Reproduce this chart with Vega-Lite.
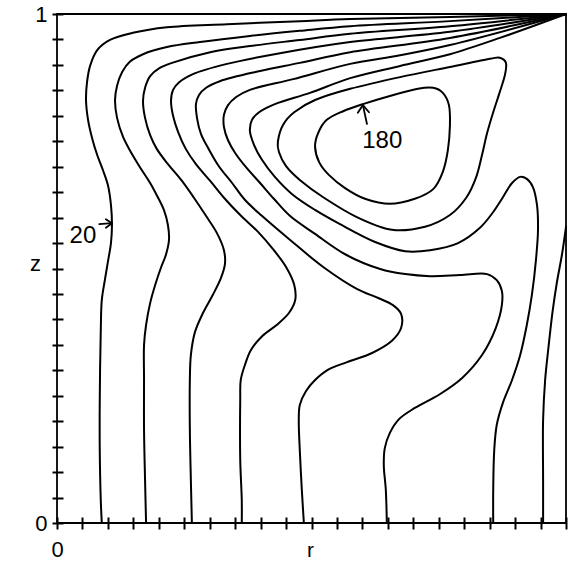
{
  "$schema": "https://vega.github.io/schema/vega-lite/v6.json",
  "width": 509,
  "height": 509,
  "autosize": {"type": "none"},
  "padding": {"left": 57, "top": 14, "right": 2, "bottom": 39},
  "background": "white",
  "config": {
    "view": {"stroke": "black", "strokeWidth": 1.8},
    "font": "Liberation Sans"
  },
  "datasets": {
    "streamlines": [
      {"id": "c1", "k": 1, "r": 0.088, "z": 0},
      {"id": "c1", "k": 2, "r": 0.086, "z": 0.045},
      {"id": "c1", "k": 3, "r": 0.084, "z": 0.143},
      {"id": "c1", "k": 4, "r": 0.084, "z": 0.242},
      {"id": "c1", "k": 5, "r": 0.086, "z": 0.379},
      {"id": "c1", "k": 6, "r": 0.088, "z": 0.438},
      {"id": "c1", "k": 7, "r": 0.094, "z": 0.477},
      {"id": "c1", "k": 8, "r": 0.100, "z": 0.513},
      {"id": "c1", "k": 9, "r": 0.106, "z": 0.550},
      {"id": "c1", "k": 10, "r": 0.108, "z": 0.585},
      {"id": "c1", "k": 11, "r": 0.106, "z": 0.625},
      {"id": "c1", "k": 12, "r": 0.100, "z": 0.664},
      {"id": "c1", "k": 13, "r": 0.090, "z": 0.694},
      {"id": "c1", "k": 14, "r": 0.079, "z": 0.723},
      {"id": "c1", "k": 15, "r": 0.069, "z": 0.756},
      {"id": "c1", "k": 16, "r": 0.061, "z": 0.792},
      {"id": "c1", "k": 17, "r": 0.057, "z": 0.831},
      {"id": "c1", "k": 18, "r": 0.059, "z": 0.866},
      {"id": "c1", "k": 19, "r": 0.065, "z": 0.898},
      {"id": "c1", "k": 20, "r": 0.079, "z": 0.929},
      {"id": "c1", "k": 21, "r": 0.104, "z": 0.949},
      {"id": "c1", "k": 22, "r": 0.149, "z": 0.963},
      {"id": "c1", "k": 23, "r": 0.216, "z": 0.974},
      {"id": "c1", "k": 24, "r": 0.334, "z": 0.980},
      {"id": "c1", "k": 25, "r": 0.477, "z": 0.986},
      {"id": "c1", "k": 26, "r": 0.576, "z": 0.990},
      {"id": "c1", "k": 27, "r": 0.772, "z": 0.994},
      {"id": "c1", "k": 28, "r": 1.0, "z": 1.0},

      {"id": "c2", "k": 1, "r": 0.175, "z": 0},
      {"id": "c2", "k": 2, "r": 0.173, "z": 0.084},
      {"id": "c2", "k": 3, "r": 0.171, "z": 0.183},
      {"id": "c2", "k": 4, "r": 0.171, "z": 0.281},
      {"id": "c2", "k": 5, "r": 0.171, "z": 0.350},
      {"id": "c2", "k": 6, "r": 0.175, "z": 0.389},
      {"id": "c2", "k": 7, "r": 0.183, "z": 0.432},
      {"id": "c2", "k": 8, "r": 0.193, "z": 0.468},
      {"id": "c2", "k": 9, "r": 0.204, "z": 0.501},
      {"id": "c2", "k": 10, "r": 0.214, "z": 0.527},
      {"id": "c2", "k": 11, "r": 0.220, "z": 0.556},
      {"id": "c2", "k": 12, "r": 0.218, "z": 0.585},
      {"id": "c2", "k": 13, "r": 0.210, "z": 0.615},
      {"id": "c2", "k": 14, "r": 0.196, "z": 0.644},
      {"id": "c2", "k": 15, "r": 0.183, "z": 0.668},
      {"id": "c2", "k": 16, "r": 0.163, "z": 0.699},
      {"id": "c2", "k": 17, "r": 0.145, "z": 0.729},
      {"id": "c2", "k": 18, "r": 0.130, "z": 0.758},
      {"id": "c2", "k": 19, "r": 0.118, "z": 0.796},
      {"id": "c2", "k": 20, "r": 0.114, "z": 0.831},
      {"id": "c2", "k": 21, "r": 0.118, "z": 0.859},
      {"id": "c2", "k": 22, "r": 0.128, "z": 0.886},
      {"id": "c2", "k": 23, "r": 0.143, "z": 0.906},
      {"id": "c2", "k": 24, "r": 0.169, "z": 0.921},
      {"id": "c2", "k": 25, "r": 0.216, "z": 0.935},
      {"id": "c2", "k": 26, "r": 0.281, "z": 0.945},
      {"id": "c2", "k": 27, "r": 0.379, "z": 0.957},
      {"id": "c2", "k": 28, "r": 0.477, "z": 0.967},
      {"id": "c2", "k": 29, "r": 0.576, "z": 0.976},
      {"id": "c2", "k": 30, "r": 0.772, "z": 0.986},
      {"id": "c2", "k": 31, "r": 1.0, "z": 1.0},

      {"id": "c3", "k": 1, "r": 0.265, "z": 0},
      {"id": "c3", "k": 2, "r": 0.263, "z": 0.084},
      {"id": "c3", "k": 3, "r": 0.261, "z": 0.183},
      {"id": "c3", "k": 4, "r": 0.261, "z": 0.281},
      {"id": "c3", "k": 5, "r": 0.263, "z": 0.330},
      {"id": "c3", "k": 6, "r": 0.271, "z": 0.375},
      {"id": "c3", "k": 7, "r": 0.287, "z": 0.413},
      {"id": "c3", "k": 8, "r": 0.306, "z": 0.448},
      {"id": "c3", "k": 9, "r": 0.322, "z": 0.481},
      {"id": "c3", "k": 10, "r": 0.330, "z": 0.509},
      {"id": "c3", "k": 11, "r": 0.328, "z": 0.536},
      {"id": "c3", "k": 12, "r": 0.314, "z": 0.570},
      {"id": "c3", "k": 13, "r": 0.293, "z": 0.603},
      {"id": "c3", "k": 14, "r": 0.269, "z": 0.639},
      {"id": "c3", "k": 15, "r": 0.244, "z": 0.674},
      {"id": "c3", "k": 16, "r": 0.218, "z": 0.705},
      {"id": "c3", "k": 17, "r": 0.196, "z": 0.735},
      {"id": "c3", "k": 18, "r": 0.183, "z": 0.762},
      {"id": "c3", "k": 19, "r": 0.173, "z": 0.796},
      {"id": "c3", "k": 20, "r": 0.169, "z": 0.829},
      {"id": "c3", "k": 21, "r": 0.173, "z": 0.855},
      {"id": "c3", "k": 22, "r": 0.183, "z": 0.878},
      {"id": "c3", "k": 23, "r": 0.202, "z": 0.894},
      {"id": "c3", "k": 24, "r": 0.226, "z": 0.904},
      {"id": "c3", "k": 25, "r": 0.301, "z": 0.925},
      {"id": "c3", "k": 26, "r": 0.379, "z": 0.937},
      {"id": "c3", "k": 27, "r": 0.477, "z": 0.949},
      {"id": "c3", "k": 28, "r": 0.576, "z": 0.961},
      {"id": "c3", "k": 29, "r": 0.772, "z": 0.976},
      {"id": "c3", "k": 30, "r": 1.0, "z": 1.0},

      {"id": "c4", "k": 1, "r": 0.363, "z": 0},
      {"id": "c4", "k": 2, "r": 0.363, "z": 0.045},
      {"id": "c4", "k": 3, "r": 0.360, "z": 0.124},
      {"id": "c4", "k": 4, "r": 0.360, "z": 0.242},
      {"id": "c4", "k": 5, "r": 0.361, "z": 0.281},
      {"id": "c4", "k": 6, "r": 0.369, "z": 0.310},
      {"id": "c4", "k": 7, "r": 0.381, "z": 0.340},
      {"id": "c4", "k": 8, "r": 0.403, "z": 0.367},
      {"id": "c4", "k": 9, "r": 0.434, "z": 0.391},
      {"id": "c4", "k": 10, "r": 0.456, "z": 0.413},
      {"id": "c4", "k": 11, "r": 0.468, "z": 0.438},
      {"id": "c4", "k": 12, "r": 0.466, "z": 0.468},
      {"id": "c4", "k": 13, "r": 0.450, "z": 0.503},
      {"id": "c4", "k": 14, "r": 0.426, "z": 0.536},
      {"id": "c4", "k": 15, "r": 0.395, "z": 0.572},
      {"id": "c4", "k": 16, "r": 0.360, "z": 0.605},
      {"id": "c4", "k": 17, "r": 0.328, "z": 0.639},
      {"id": "c4", "k": 18, "r": 0.301, "z": 0.672},
      {"id": "c4", "k": 19, "r": 0.273, "z": 0.705},
      {"id": "c4", "k": 20, "r": 0.253, "z": 0.735},
      {"id": "c4", "k": 21, "r": 0.238, "z": 0.768},
      {"id": "c4", "k": 22, "r": 0.228, "z": 0.800},
      {"id": "c4", "k": 23, "r": 0.224, "z": 0.829},
      {"id": "c4", "k": 24, "r": 0.228, "z": 0.851},
      {"id": "c4", "k": 25, "r": 0.240, "z": 0.866},
      {"id": "c4", "k": 26, "r": 0.267, "z": 0.882},
      {"id": "c4", "k": 27, "r": 0.334, "z": 0.902},
      {"id": "c4", "k": 28, "r": 0.438, "z": 0.923},
      {"id": "c4", "k": 29, "r": 0.576, "z": 0.945},
      {"id": "c4", "k": 30, "r": 0.772, "z": 0.965},
      {"id": "c4", "k": 31, "r": 1.0, "z": 1.0},

      {"id": "c5", "k": 1, "r": 0.485, "z": 0},
      {"id": "c5", "k": 2, "r": 0.481, "z": 0.065},
      {"id": "c5", "k": 3, "r": 0.477, "z": 0.143},
      {"id": "c5", "k": 4, "r": 0.475, "z": 0.202},
      {"id": "c5", "k": 5, "r": 0.477, "z": 0.232},
      {"id": "c5", "k": 6, "r": 0.489, "z": 0.259},
      {"id": "c5", "k": 7, "r": 0.507, "z": 0.281},
      {"id": "c5", "k": 8, "r": 0.532, "z": 0.301},
      {"id": "c5", "k": 9, "r": 0.570, "z": 0.316},
      {"id": "c5", "k": 10, "r": 0.619, "z": 0.334},
      {"id": "c5", "k": 11, "r": 0.658, "z": 0.358},
      {"id": "c5", "k": 12, "r": 0.676, "z": 0.383},
      {"id": "c5", "k": 13, "r": 0.676, "z": 0.411},
      {"id": "c5", "k": 14, "r": 0.660, "z": 0.428},
      {"id": "c5", "k": 15, "r": 0.631, "z": 0.442},
      {"id": "c5", "k": 16, "r": 0.589, "z": 0.460},
      {"id": "c5", "k": 17, "r": 0.523, "z": 0.503},
      {"id": "c5", "k": 18, "r": 0.458, "z": 0.556},
      {"id": "c5", "k": 19, "r": 0.403, "z": 0.603},
      {"id": "c5", "k": 20, "r": 0.369, "z": 0.635},
      {"id": "c5", "k": 21, "r": 0.344, "z": 0.668},
      {"id": "c5", "k": 22, "r": 0.318, "z": 0.701},
      {"id": "c5", "k": 23, "r": 0.299, "z": 0.733},
      {"id": "c5", "k": 24, "r": 0.283, "z": 0.764},
      {"id": "c5", "k": 25, "r": 0.275, "z": 0.796},
      {"id": "c5", "k": 26, "r": 0.273, "z": 0.823},
      {"id": "c5", "k": 27, "r": 0.279, "z": 0.841},
      {"id": "c5", "k": 28, "r": 0.293, "z": 0.855},
      {"id": "c5", "k": 29, "r": 0.320, "z": 0.868},
      {"id": "c5", "k": 30, "r": 0.399, "z": 0.888},
      {"id": "c5", "k": 31, "r": 0.477, "z": 0.904},
      {"id": "c5", "k": 32, "r": 0.576, "z": 0.925},
      {"id": "c5", "k": 33, "r": 0.772, "z": 0.953},
      {"id": "c5", "k": 34, "r": 1.0, "z": 1.0},

      {"id": "c6", "k": 1, "r": 0.648, "z": 0},
      {"id": "c6", "k": 2, "r": 0.646, "z": 0.065},
      {"id": "c6", "k": 3, "r": 0.642, "z": 0.114},
      {"id": "c6", "k": 4, "r": 0.644, "z": 0.147},
      {"id": "c6", "k": 5, "r": 0.654, "z": 0.177},
      {"id": "c6", "k": 6, "r": 0.672, "z": 0.204},
      {"id": "c6", "k": 7, "r": 0.703, "z": 0.226},
      {"id": "c6", "k": 8, "r": 0.752, "z": 0.253},
      {"id": "c6", "k": 9, "r": 0.796, "z": 0.285},
      {"id": "c6", "k": 10, "r": 0.835, "z": 0.330},
      {"id": "c6", "k": 11, "r": 0.862, "z": 0.383},
      {"id": "c6", "k": 12, "r": 0.874, "z": 0.428},
      {"id": "c6", "k": 13, "r": 0.874, "z": 0.456},
      {"id": "c6", "k": 14, "r": 0.864, "z": 0.477},
      {"id": "c6", "k": 15, "r": 0.845, "z": 0.489},
      {"id": "c6", "k": 16, "r": 0.792, "z": 0.487},
      {"id": "c6", "k": 17, "r": 0.733, "z": 0.485},
      {"id": "c6", "k": 18, "r": 0.684, "z": 0.489},
      {"id": "c6", "k": 19, "r": 0.635, "z": 0.499},
      {"id": "c6", "k": 20, "r": 0.566, "z": 0.528},
      {"id": "c6", "k": 21, "r": 0.507, "z": 0.568},
      {"id": "c6", "k": 22, "r": 0.458, "z": 0.603},
      {"id": "c6", "k": 23, "r": 0.426, "z": 0.637},
      {"id": "c6", "k": 24, "r": 0.399, "z": 0.668},
      {"id": "c6", "k": 25, "r": 0.373, "z": 0.697},
      {"id": "c6", "k": 26, "r": 0.350, "z": 0.727},
      {"id": "c6", "k": 27, "r": 0.336, "z": 0.752},
      {"id": "c6", "k": 28, "r": 0.328, "z": 0.778},
      {"id": "c6", "k": 29, "r": 0.328, "z": 0.802},
      {"id": "c6", "k": 30, "r": 0.336, "z": 0.821},
      {"id": "c6", "k": 31, "r": 0.352, "z": 0.837},
      {"id": "c6", "k": 32, "r": 0.379, "z": 0.851},
      {"id": "c6", "k": 33, "r": 0.464, "z": 0.872},
      {"id": "c6", "k": 34, "r": 0.576, "z": 0.902},
      {"id": "c6", "k": 35, "r": 0.674, "z": 0.919},
      {"id": "c6", "k": 36, "r": 0.772, "z": 0.939},
      {"id": "c6", "k": 37, "r": 1.0, "z": 1.0},

      {"id": "c7", "k": 1, "r": 0.857, "z": 0},
      {"id": "c7", "k": 2, "r": 0.857, "z": 0.065},
      {"id": "c7", "k": 3, "r": 0.859, "z": 0.143},
      {"id": "c7", "k": 4, "r": 0.864, "z": 0.193},
      {"id": "c7", "k": 5, "r": 0.876, "z": 0.236},
      {"id": "c7", "k": 6, "r": 0.894, "z": 0.281},
      {"id": "c7", "k": 7, "r": 0.910, "z": 0.330},
      {"id": "c7", "k": 8, "r": 0.923, "z": 0.389},
      {"id": "c7", "k": 9, "r": 0.933, "z": 0.448},
      {"id": "c7", "k": 10, "r": 0.941, "z": 0.517},
      {"id": "c7", "k": 11, "r": 0.945, "z": 0.576},
      {"id": "c7", "k": 12, "r": 0.943, "z": 0.625},
      {"id": "c7", "k": 13, "r": 0.935, "z": 0.660},
      {"id": "c7", "k": 14, "r": 0.923, "z": 0.676},
      {"id": "c7", "k": 15, "r": 0.910, "z": 0.680},
      {"id": "c7", "k": 16, "r": 0.894, "z": 0.668},
      {"id": "c7", "k": 17, "r": 0.876, "z": 0.640},
      {"id": "c7", "k": 18, "r": 0.857, "z": 0.611},
      {"id": "c7", "k": 19, "r": 0.831, "z": 0.580},
      {"id": "c7", "k": 20, "r": 0.788, "z": 0.550},
      {"id": "c7", "k": 21, "r": 0.733, "z": 0.536},
      {"id": "c7", "k": 22, "r": 0.684, "z": 0.534},
      {"id": "c7", "k": 23, "r": 0.625, "z": 0.552},
      {"id": "c7", "k": 24, "r": 0.556, "z": 0.587},
      {"id": "c7", "k": 25, "r": 0.507, "z": 0.615},
      {"id": "c7", "k": 26, "r": 0.462, "z": 0.646},
      {"id": "c7", "k": 27, "r": 0.428, "z": 0.680},
      {"id": "c7", "k": 28, "r": 0.403, "z": 0.713},
      {"id": "c7", "k": 29, "r": 0.387, "z": 0.743},
      {"id": "c7", "k": 30, "r": 0.379, "z": 0.770},
      {"id": "c7", "k": 31, "r": 0.383, "z": 0.792},
      {"id": "c7", "k": 32, "r": 0.397, "z": 0.807},
      {"id": "c7", "k": 33, "r": 0.428, "z": 0.823},
      {"id": "c7", "k": 34, "r": 0.497, "z": 0.845},
      {"id": "c7", "k": 35, "r": 0.576, "z": 0.874},
      {"id": "c7", "k": 36, "r": 0.674, "z": 0.898},
      {"id": "c7", "k": 37, "r": 0.772, "z": 0.921},
      {"id": "c7", "k": 38, "r": 0.870, "z": 0.953},
      {"id": "c7", "k": 39, "r": 1.0, "z": 1.0},

      {"id": "c8", "k": 1, "r": 0.955, "z": 0},
      {"id": "c8", "k": 2, "r": 0.955, "z": 0.084},
      {"id": "c8", "k": 3, "r": 0.955, "z": 0.202},
      {"id": "c8", "k": 4, "r": 0.959, "z": 0.281},
      {"id": "c8", "k": 5, "r": 0.965, "z": 0.340},
      {"id": "c8", "k": 6, "r": 0.974, "z": 0.418},
      {"id": "c8", "k": 7, "r": 0.982, "z": 0.472},
      {"id": "c8", "k": 8, "r": 0.992, "z": 0.527},
      {"id": "c8", "k": 9, "r": 1.0, "z": 0.582}
    ],
    "loops": [
      {"id": "l160", "k": 1, "r": 0.434, "z": 0.750},
      {"id": "l160", "k": 2, "r": 0.444, "z": 0.782},
      {"id": "l160", "k": 3, "r": 0.466, "z": 0.807},
      {"id": "l160", "k": 4, "r": 0.507, "z": 0.831},
      {"id": "l160", "k": 5, "r": 0.576, "z": 0.853},
      {"id": "l160", "k": 6, "r": 0.674, "z": 0.876},
      {"id": "l160", "k": 7, "r": 0.772, "z": 0.896},
      {"id": "l160", "k": 8, "r": 0.851, "z": 0.912},
      {"id": "l160", "k": 9, "r": 0.870, "z": 0.914},
      {"id": "l160", "k": 10, "r": 0.882, "z": 0.904},
      {"id": "l160", "k": 11, "r": 0.880, "z": 0.880},
      {"id": "l160", "k": 12, "r": 0.870, "z": 0.847},
      {"id": "l160", "k": 13, "r": 0.857, "z": 0.807},
      {"id": "l160", "k": 14, "r": 0.845, "z": 0.766},
      {"id": "l160", "k": 15, "r": 0.835, "z": 0.723},
      {"id": "l160", "k": 16, "r": 0.823, "z": 0.678},
      {"id": "l160", "k": 17, "r": 0.804, "z": 0.639},
      {"id": "l160", "k": 18, "r": 0.772, "z": 0.605},
      {"id": "l160", "k": 19, "r": 0.723, "z": 0.582},
      {"id": "l160", "k": 20, "r": 0.658, "z": 0.576},
      {"id": "l160", "k": 21, "r": 0.589, "z": 0.601},
      {"id": "l160", "k": 22, "r": 0.523, "z": 0.640},
      {"id": "l160", "k": 23, "r": 0.477, "z": 0.674},
      {"id": "l160", "k": 24, "r": 0.450, "z": 0.701},
      {"id": "l160", "k": 25, "r": 0.436, "z": 0.729},

      {"id": "l180", "k": 1, "r": 0.507, "z": 0.739},
      {"id": "l180", "k": 2, "r": 0.513, "z": 0.766},
      {"id": "l180", "k": 3, "r": 0.530, "z": 0.792},
      {"id": "l180", "k": 4, "r": 0.562, "z": 0.809},
      {"id": "l180", "k": 5, "r": 0.601, "z": 0.823},
      {"id": "l180", "k": 6, "r": 0.654, "z": 0.839},
      {"id": "l180", "k": 7, "r": 0.709, "z": 0.853},
      {"id": "l180", "k": 8, "r": 0.739, "z": 0.855},
      {"id": "l180", "k": 9, "r": 0.758, "z": 0.845},
      {"id": "l180", "k": 10, "r": 0.770, "z": 0.821},
      {"id": "l180", "k": 11, "r": 0.772, "z": 0.782},
      {"id": "l180", "k": 12, "r": 0.768, "z": 0.733},
      {"id": "l180", "k": 13, "r": 0.758, "z": 0.690},
      {"id": "l180", "k": 14, "r": 0.739, "z": 0.656},
      {"id": "l180", "k": 15, "r": 0.703, "z": 0.637},
      {"id": "l180", "k": 16, "r": 0.654, "z": 0.627},
      {"id": "l180", "k": 17, "r": 0.605, "z": 0.637},
      {"id": "l180", "k": 18, "r": 0.566, "z": 0.658},
      {"id": "l180", "k": 19, "r": 0.534, "z": 0.684},
      {"id": "l180", "k": 20, "r": 0.515, "z": 0.709}
    ],
    "arrows": [
      {"id": "a20s", "k": 1, "r": 0.083, "z": 0.587},
      {"id": "a20s", "k": 2, "r": 0.108, "z": 0.589},
      {"id": "a20h", "k": 1, "r": 0.096, "z": 0.597},
      {"id": "a20h", "k": 2, "r": 0.108, "z": 0.589},
      {"id": "a20h", "k": 3, "r": 0.096, "z": 0.580},
      {"id": "a180s", "k": 1, "r": 0.609, "z": 0.784},
      {"id": "a180s", "k": 2, "r": 0.601, "z": 0.821},
      {"id": "a180h", "k": 1, "r": 0.591, "z": 0.806},
      {"id": "a180h", "k": 2, "r": 0.601, "z": 0.821},
      {"id": "a180h", "k": 3, "r": 0.613, "z": 0.807}
    ],
    "notes": [
      {"label": "20", "r": 0.051, "z": 0.564},
      {"label": "180", "r": 0.639, "z": 0.750}
    ]
  },
  "encoding": {
    "x": {
      "field": "r",
      "type": "quantitative",
      "scale": {"domain": [0, 1], "nice": false, "zero": false},
      "axis": {
        "values": [0, 0.05, 0.1, 0.15, 0.2, 0.25, 0.3, 0.35, 0.4, 0.45, 0.5, 0.55, 0.6, 0.65, 0.7, 0.75, 0.8, 0.85, 0.9, 0.95, 1],
        "offset": -6,
        "domain": false,
        "grid": false,
        "tickSize": 12,
        "tickWidth": 2,
        "tickColor": "black",
        "labelExpr": "datum.value === 0 ? '0' : ''",
        "labelFont": "Liberation Sans",
        "labelFontSize": 22,
        "labelColor": "black",
        "labelPadding": 10,
        "labelFlush": false,
        "labelOverlap": false,
        "title": "r",
        "titleFont": "Liberation Sans",
        "titleFontSize": 21,
        "titleFontWeight": "normal",
        "titleColor": "black",
        "titleX": 253,
        "titleY": 39,
        "titleAlign": "center",
        "titleBaseline": "alphabetic"
      }
    },
    "y": {
      "field": "z",
      "type": "quantitative",
      "scale": {"domain": [0, 1], "nice": false, "zero": false},
      "axis": {
        "values": [0, 0.05, 0.1, 0.15, 0.2, 0.25, 0.3, 0.35, 0.4, 0.45, 0.5, 0.55, 0.6, 0.65, 0.7, 0.75, 0.8, 0.85, 0.9, 0.95, 1],
        "offset": -6,
        "domain": false,
        "grid": false,
        "tickSize": 11,
        "tickWidth": 2,
        "tickColor": "black",
        "labelExpr": "datum.value === 0 ? '0' : datum.value === 1 ? '1' : ''",
        "labelFont": "Liberation Sans",
        "labelFontSize": 22,
        "labelColor": "black",
        "labelPadding": 5,
        "labelFlush": false,
        "labelOverlap": false,
        "title": "z",
        "titleFont": "Liberation Sans",
        "titleFontSize": 22,
        "titleFontWeight": "normal",
        "titleColor": "black",
        "titleAngle": 0,
        "titleX": -28,
        "titleY": 256,
        "titleAlign": "center",
        "titleBaseline": "alphabetic"
      }
    }
  },
  "layer": [
    {
      "data": {"name": "streamlines"},
      "mark": {"type": "line", "interpolate": "catmull-rom", "color": "black", "strokeWidth": 2, "strokeCap": "round"},
      "encoding": {
        "detail": {"field": "id"},
        "order": {"field": "k", "type": "quantitative"}
      }
    },
    {
      "data": {"name": "loops"},
      "mark": {"type": "line", "interpolate": "cardinal-closed", "color": "black", "strokeWidth": 2},
      "encoding": {
        "detail": {"field": "id"},
        "order": {"field": "k", "type": "quantitative"}
      }
    },
    {
      "data": {"name": "arrows"},
      "mark": {"type": "line", "interpolate": "linear", "color": "black", "strokeWidth": 1.8, "strokeCap": "round", "strokeJoin": "round"},
      "encoding": {
        "detail": {"field": "id"},
        "order": {"field": "k", "type": "quantitative"}
      }
    },
    {
      "data": {"name": "notes"},
      "mark": {"type": "text", "font": "Liberation Sans", "fontSize": 24, "color": "black", "align": "center", "baseline": "middle"},
      "encoding": {
        "text": {"field": "label"}
      }
    }
  ]
}
